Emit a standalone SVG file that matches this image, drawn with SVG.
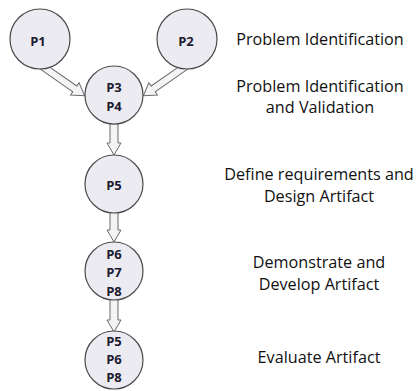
<svg xmlns="http://www.w3.org/2000/svg" width="416" height="391" viewBox="0 0 416 391">
  <style>
    .node circle { fill: #ecebf2; stroke: #4a4a4a; stroke-width: 1.2; }
    .node text { font-family: "Open Sans", "Liberation Sans", sans-serif; font-weight: bold; font-size: 13px; fill: #1c1c30; text-anchor: middle; }
    .arrow { fill: #f4f4f6; stroke: #6a6a6a; stroke-width: 1; stroke-linejoin: miter; }
    .label { font-family: "Open Sans", "Liberation Sans", sans-serif; font-size: 16.2px; fill: #111; text-anchor: middle; }
  </style>
  <defs>
    <path id="blk" d="M0,-3.5 L40,-3.5 L40,-7.5 L52,0 L40,7.5 L40,3.5 L0,3.5 Z"/>
  </defs>
  <rect width="416" height="391" fill="#fff"/>

  <!-- connectors: hollow block arrows -->
  <g id="connectors">
    <use href="#blk" class="arrow" transform="translate(42,66) rotate(34.9)"/>
    <use href="#blk" class="arrow" transform="translate(186,66) rotate(145.1)"/>
    <path class="arrow" d="M110,124 L118,124 L118,143 L121,143 L114,155 L107,143 L110,143 Z"/>
    <path class="arrow" d="M110,212 L118,212 L118,230 L121,230 L114,242 L107,230 L110,230 Z"/>
    <path class="arrow" d="M110,299 L118,299 L118,320 L121,320 L114,332 L107,320 L110,320 Z"/>
  </g>

  <g id="p1" class="node">
    <circle cx="40" cy="39" r="30"/>
    <text x="38" y="46">P1</text>
  </g>
  <g id="p2" class="node">
    <circle cx="187" cy="39" r="30"/>
    <text x="186" y="46">P2</text>
  </g>
  <g id="p34" class="node">
    <circle cx="114" cy="95" r="29"/>
    <text x="114" y="92">P3</text>
    <text x="114" y="111">P4</text>
  </g>
  <g id="p5" class="node">
    <circle cx="114" cy="184" r="29"/>
    <text x="114" y="190">P5</text>
  </g>
  <g id="p678" class="node">
    <circle cx="114" cy="271" r="29"/>
    <text x="114" y="259">P6</text>
    <text x="114" y="277">P7</text>
    <text x="114" y="296">P8</text>
  </g>
  <g id="p568" class="node">
    <circle cx="114" cy="360" r="29"/>
    <text x="114" y="346">P5</text>
    <text x="114" y="364">P6</text>
    <text x="114" y="382">P8</text>
  </g>

  <g id="stage-labels">
    <text class="label" x="320" y="45">Problem Identification</text>
    <text class="label" x="320" y="92">Problem Identification</text>
    <text class="label" x="320" y="113">and Validation</text>
    <text class="label" x="319" y="180">Define requirements and</text>
    <text class="label" x="319" y="202">Design Artifact</text>
    <text class="label" x="319" y="268">Demonstrate and</text>
    <text class="label" x="319" y="290">Develop Artifact</text>
    <text class="label" x="319" y="363">Evaluate Artifact</text>
  </g>
</svg>
